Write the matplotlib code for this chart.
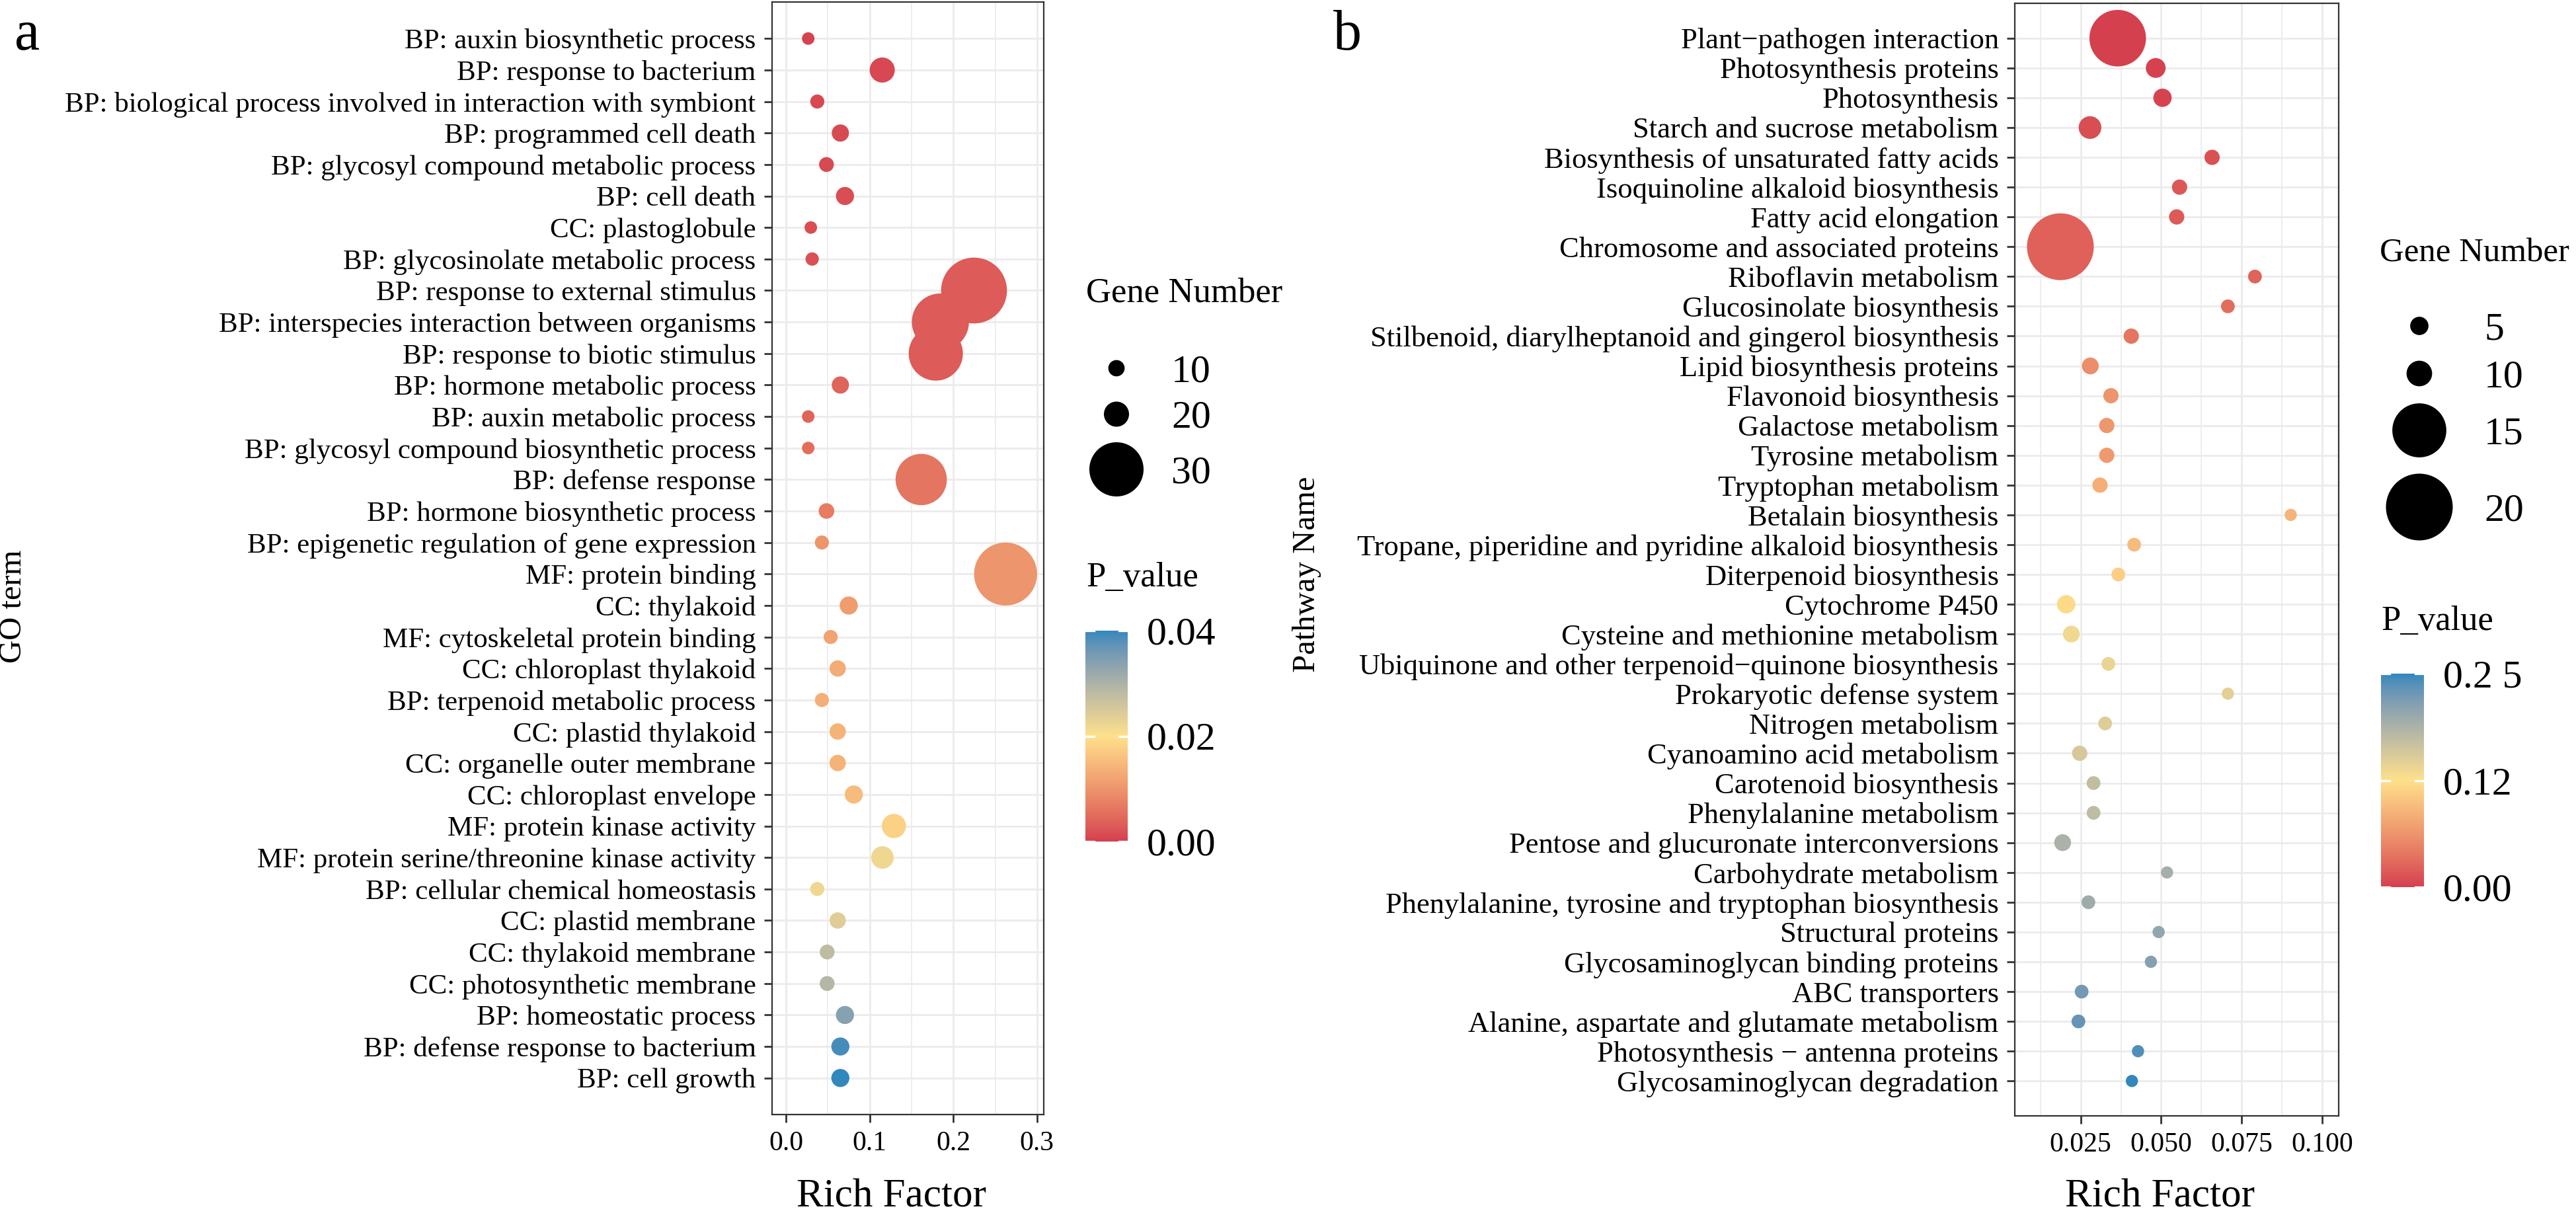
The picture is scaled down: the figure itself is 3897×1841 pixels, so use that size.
import numpy as np
import matplotlib
matplotlib.use("Agg")
import matplotlib.pyplot as plt
from matplotlib.colors import ListedColormap, Normalize
from matplotlib.cm import ScalarMappable
from matplotlib.ticker import FixedLocator

plt.rcParams['font.family'] = ['Liberation Serif', 'DejaVu Serif']

W, H = 3898, 1841
DPI = 200

# ---------------- data: panel a (GO) ----------------
go_terms = [
    "BP: auxin biosynthetic process",
    "BP: response to bacterium",
    "BP: biological process involved in interaction with symbiont",
    "BP: programmed cell death",
    "BP: glycosyl compound metabolic process",
    "BP: cell death",
    "CC: plastoglobule",
    "BP: glycosinolate metabolic process",
    "BP: response to external stimulus",
    "BP: interspecies interaction between organisms",
    "BP: response to biotic stimulus",
    "BP: hormone metabolic process",
    "BP: auxin metabolic process",
    "BP: glycosyl compound biosynthetic process",
    "BP: defense response",
    "BP: hormone biosynthetic process",
    "BP: epigenetic regulation of gene expression",
    "MF: protein binding",
    "CC: thylakoid",
    "MF: cytoskeletal protein binding",
    "CC: chloroplast thylakoid",
    "BP: terpenoid metabolic process",
    "CC: plastid thylakoid",
    "CC: organelle outer membrane",
    "CC: chloroplast envelope",
    "MF: protein kinase activity",
    "MF: protein serine/threonine kinase activity",
    "BP: cellular chemical homeostasis",
    "CC: plastid membrane",
    "CC: thylakoid membrane",
    "CC: photosynthetic membrane",
    "BP: homeostatic process",
    "BP: defense response to bacterium",
    "BP: cell growth",
]
go_rich = [0.0266, 0.115, 0.0374, 0.065, 0.0484, 0.0705, 0.0297, 0.0313,
           0.2247, 0.1845, 0.179, 0.065, 0.0266, 0.0266, 0.1616, 0.0484,
           0.0429, 0.2624, 0.075, 0.0534, 0.0618, 0.0429, 0.0618, 0.0618,
           0.081, 0.129, 0.1153, 0.0374, 0.0618, 0.0492, 0.0492, 0.0705,
           0.065, 0.065]
go_genes = [5, 20, 7, 11, 8, 12, 5, 6, 34, 31, 30, 11, 5, 5, 29, 9, 7, 33,
            12, 7, 10, 7, 10, 10, 12, 19, 17, 7, 10, 8, 8, 12, 12, 12]
go_p = [0.0005, 0.001, 0.001, 0.0012, 0.0012, 0.0015, 0.0015, 0.0018,
        0.003, 0.003, 0.003, 0.004, 0.004, 0.005, 0.006, 0.007, 0.010,
        0.010, 0.011, 0.012, 0.013, 0.0135, 0.014, 0.014, 0.015, 0.018,
        0.022, 0.022, 0.024, 0.028, 0.029, 0.034, 0.039, 0.040]

# ---------------- data: panel b (KEGG) ----------------
kegg_terms = [
    "Plant\u2212pathogen interaction",
    "Photosynthesis proteins",
    "Photosynthesis",
    "Starch and sucrose metabolism",
    "Biosynthesis of unsaturated fatty acids",
    "Isoquinoline alkaloid biosynthesis",
    "Fatty acid elongation",
    "Chromosome and associated proteins",
    "Riboflavin metabolism",
    "Glucosinolate biosynthesis",
    "Stilbenoid, diarylheptanoid and gingerol biosynthesis",
    "Lipid biosynthesis proteins",
    "Flavonoid biosynthesis",
    "Galactose metabolism",
    "Tyrosine metabolism",
    "Tryptophan metabolism",
    "Betalain biosynthesis",
    "Tropane, piperidine and pyridine alkaloid biosynthesis",
    "Diterpenoid biosynthesis",
    "Cytochrome P450",
    "Cysteine and methionine metabolism",
    "Ubiquinone and other terpenoid\u2212quinone biosynthesis",
    "Prokaryotic defense system",
    "Nitrogen metabolism",
    "Cyanoamino acid metabolism",
    "Carotenoid biosynthesis",
    "Phenylalanine metabolism",
    "Pentose and glucuronate interconversions",
    "Carbohydrate metabolism",
    "Phenylalanine, tyrosine and tryptophan biosynthesis",
    "Structural proteins",
    "Glycosaminoglycan binding proteins",
    "ABC transporters",
    "Alanine, aspartate and glutamate metabolism",
    "Photosynthesis \u2212 antenna proteins",
    "Glycosaminoglycan degradation",
]
kegg_rich = [0.0365, 0.0483, 0.0504, 0.0279, 0.0658, 0.0557, 0.0548, 0.0187,
             0.0791, 0.0707, 0.0407, 0.028, 0.0344, 0.0331, 0.0331, 0.031,
             0.0902, 0.0416, 0.0367, 0.0205, 0.0221, 0.0336, 0.0707, 0.0326,
             0.0247, 0.029, 0.029, 0.0194, 0.0518, 0.0274, 0.0492, 0.0468,
             0.0253, 0.0243, 0.0428, 0.0409]
kegg_genes = [16, 6, 5, 8, 3, 3, 3, 20, 2, 2, 3, 4, 3, 3, 3, 3, 1, 2, 2, 5,
              4, 2, 1, 2, 3, 2, 2, 4, 1, 2, 1, 1, 2, 2, 1, 1]
kegg_p = [0.001, 0.002, 0.003, 0.010, 0.012, 0.016, 0.017, 0.022, 0.024,
          0.030, 0.036, 0.055, 0.060, 0.062, 0.064, 0.080, 0.085, 0.090,
          0.105, 0.115, 0.130, 0.135, 0.140, 0.145, 0.150, 0.165, 0.167,
          0.180, 0.185, 0.190, 0.197, 0.205, 0.215, 0.222, 0.230, 0.240]

# ---------------- scales / ticks ----------------
X_TICKS_A = [0.0, 0.1, 0.2, 0.3]
X_LABELS_A = ["0.0", "0.1", "0.2", "0.3"]
X_TICKS_B = [0.025, 0.050, 0.075, 0.100]
X_LABELS_B = ["0.025", "0.050", "0.075", "0.100"]
GENE_BREAKS_A = [10, 20, 30]
GENE_BREAKS_B = [5, 10, 15, 20]
P_BREAKS_A = [0.00, 0.02, 0.04]
P_LABELS_A = ["0.00", "0.02", "0.04"]
P_BREAKS_B = [0.00, 0.12, 0.24]
P_LABELS_B = ["0.00", "0.12", "0.2 5"]

# size scale knots (gene number -> diameter in px)
KNOTS_A = ([0, 10, 20, 30, 40], [13.3, 24.7, 38.0, 82.0, 126.0])
KNOTS_B = ([0, 5, 10, 15, 20, 25], [16.2, 27.7, 38.7, 81.7, 101.0, 120.0])


# ---------------- colour map (Lab interpolation like ggplot gradient2) ----------------
_M = np.array([[0.4124564, 0.3575761, 0.1804375],
               [0.2126729, 0.7151522, 0.0721750],
               [0.0193339, 0.1191920, 0.9503041]])
_WP = np.array([0.95047, 1.0, 1.08883])


def hex2rgb(h):
    return np.array([int(h[i:i + 2], 16) for i in (1, 3, 5)]) / 255.0


def rgb2lab(rgb):
    c = np.where(rgb <= 0.04045, rgb / 12.92, ((rgb + 0.055) / 1.055) ** 2.4)
    t = (_M @ c) / _WP
    f = np.where(t > 0.008856, np.cbrt(t), 7.787 * t + 16 / 116)
    return np.array([116 * f[1] - 16, 500 * (f[0] - f[1]), 200 * (f[1] - f[2])])


def lab2rgb(lab):
    L, a, b = lab
    fy = (L + 16) / 116
    f = np.array([fy + a / 500, fy, fy - b / 200])
    t = np.where(f ** 3 > 0.008856, f ** 3, (f - 16 / 116) / 7.787)
    c = np.linalg.inv(_M) @ (t * _WP)
    c = np.clip(c, 0, 1)
    rgb = np.where(c <= 0.0031308, 12.92 * c, 1.055 * c ** (1 / 2.4) - 0.055)
    return np.clip(rgb, 0, 1)


def gradient2(low, mid, high, n=256):
    labs = [rgb2lab(hex2rgb(h)) for h in (low, mid, high)]
    cols = []
    for t in np.linspace(0, 1, n):
        if t <= 0.5:
            u = t * 2
            lab = labs[0] * (1 - u) + labs[1] * u
        else:
            u = (t - 0.5) * 2
            lab = labs[1] * (1 - u) + labs[2] * u
        cols.append(lab2rgb(lab))
    return ListedColormap(cols)


CMAP = gradient2("#D53E4F", "#FEE08B", "#3288BD")

fig = plt.figure(figsize=(W / DPI, H / DPI), dpi=DPI)
fig.patch.set_facecolor("white")


def px2s(d):
    return (np.asarray(d) * 72.0 / DPI) ** 2


GRID = "#EBEBEB"
DARK = "#333333"


def panel(rect, terms, rich, genes, pvals, xlim, xticks, xlabels, xminor,
          knots, norm, ypad, label_fs):
    x0, y0, x1, y1 = rect
    ax = fig.add_axes([x0 / W, 1 - y1 / H, (x1 - x0) / W, (y1 - y0) / H])
    n = len(terms)
    ypos = np.arange(n, 0, -1)
    ax.set_ylim(1 - ypad, n + ypad)
    ax.set_xlim(*xlim)
    ax.set_axisbelow(True)
    d = np.interp(genes, knots[0], knots[1])
    ax.scatter(rich, ypos, s=px2s(d), c=pvals, cmap=CMAP, norm=norm,
               edgecolors="none", zorder=3)
    ax.set_yticks(ypos)
    ax.set_yticklabels(terms, fontsize=label_fs)
    ax.set_xticks(xticks)
    ax.set_xticklabels(xlabels, fontsize=15)
    ax.xaxis.set_minor_locator(FixedLocator(xminor))
    ax.grid(True, which="major", color=GRID, lw=1.0)
    ax.grid(True, which="minor", axis="x", color=GRID, lw=0.6)
    ax.tick_params(which="major", length=4.3, width=1.0, color=DARK, pad=4.5)
    ax.tick_params(which="minor", length=0)
    for s in ax.spines.values():
        s.set_color(DARK)
        s.set_linewidth(0.8)
    return ax


norm_a = Normalize(0, 0.04)
norm_b = Normalize(0, 0.24)

panel((1168, 3, 1579, 1686), go_terms, go_rich, go_genes, go_p,
      (-0.0166, 0.308), X_TICKS_A, X_LABELS_A, [0.05, 0.15, 0.25],
      KNOTS_A, norm_a, 1.16, 15.5)
panel((3048, 5, 3538, 1688), kegg_terms, kegg_rich, kegg_genes, kegg_p,
      (0.00455, 0.1051), X_TICKS_B, X_LABELS_B, [0.0125, 0.0375, 0.0625, 0.0875],
      KNOTS_B, norm_b, 1.17, 16)


def colorbar(rect, norm, ticks, labels):
    x0, y0, x1, y1 = rect
    cax = fig.add_axes([x0 / W, 1 - y1 / H, (x1 - x0) / W, (y1 - y0) / H])
    cb = fig.colorbar(ScalarMappable(norm=norm, cmap=CMAP), cax=cax, ticks=ticks)
    cb.outline.set_visible(False)
    cb.set_ticklabels(labels)
    cax.tick_params(length=0, pad=10.5, labelsize=21.5)
    for t in ticks:
        cax.axhline(t, xmin=0, xmax=0.2, color="white", lw=1.2)
        cax.axhline(t, xmin=0.8, xmax=1, color="white", lw=1.2)
    return cax


colorbar((1642, 954, 1706, 1273), norm_a, P_BREAKS_A, P_LABELS_A)
colorbar((3602, 1019, 3667, 1342), norm_b, P_BREAKS_B, P_LABELS_B)

# overlay for legends and free text (pixel coordinates, y downward)
ov = fig.add_axes([0, 0, 1, 1])
ov.set_xlim(0, W)
ov.set_ylim(H, 0)
ov.axis("off")
ov.patch.set_alpha(0)

LEG_FS = 21.5
digit_half = 0.676 * LEG_FS * DPI / 72 / 2

# size legend a
ya = [557, 626.5, 710]
ov.scatter([1689] * 3, ya, s=px2s(np.interp(GENE_BREAKS_A, *KNOTS_A)),
           color="black", edgecolors="none")
for v, y in zip(GENE_BREAKS_A, ya):
    ov.text(1772, y + digit_half, str(v), fontsize=LEG_FS, ha="left", va="baseline")
ov.text(1643, 456, "Gene Number", fontsize=19, ha="left", va="baseline")
ov.text(1643, 887, "P_value", fontsize=19, ha="left", va="baseline")

# size legend b
yb = [493, 565, 651, 767]
ov.scatter([3660] * 4, yb, s=px2s(np.interp(GENE_BREAKS_B, *KNOTS_B)),
           color="black", edgecolors="none")
for v, y in zip(GENE_BREAKS_B, yb):
    ov.text(3758, y + digit_half, str(v), fontsize=LEG_FS, ha="left", va="baseline")
ov.text(3600, 395, "Gene Number", fontsize=18.3, ha="left", va="baseline")
ov.text(3602, 953, "P_value", fontsize=19, ha="left", va="baseline")

# axis titles
ov.text(1349, 1826, "Rich Factor", fontsize=22, ha="center", va="baseline")
ov.text(3268, 1826, "Rich Factor", fontsize=22, ha="center", va="baseline")
ov.text(20, 917, "GO term", fontsize=17.5, rotation=90, ha="center", va="center")
ov.text(1977, 869, "Pathway Name", fontsize=17.5, rotation=90, ha="center", va="center")

# panel letters
ov.text(22, 75, "a", fontsize=31, ha="left", va="baseline")
ov.text(2017, 75, "b", fontsize=31, ha="left", va="baseline")

fig.savefig("out.png", dpi=DPI, facecolor="white")
